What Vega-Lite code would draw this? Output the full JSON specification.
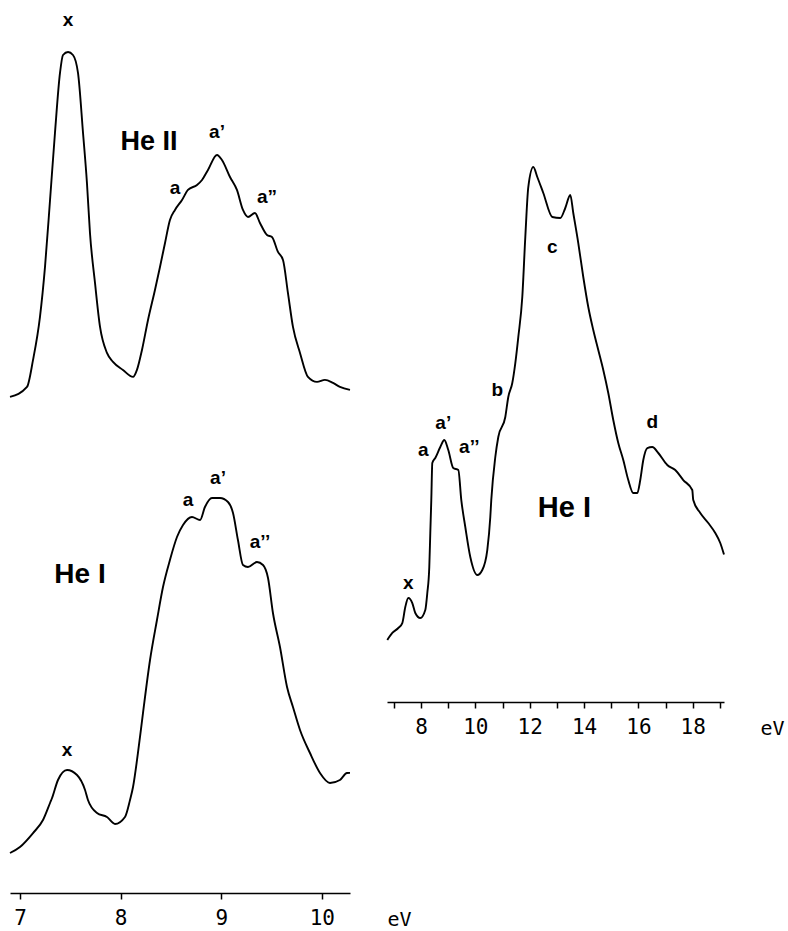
{
  "$schema": "https://vega.github.io/schema/vega-lite/v6.json",
  "padding": {"left": 6, "top": 0, "right": 0, "bottom": 0},
  "background": "white",
  "config": {"view": {"stroke": null}},
  "bounds": "flush",
  "spacing": 37,
  "datasets": {
    "heII": [
      {"eV": 6.900, "I": 0.75}, {"eV": 7.069, "I": 3.25}, {"eV": 7.129, "I": 10}, {"eV": 7.198, "I": 20.75},
      {"eV": 7.248, "I": 33.25}, {"eV": 7.298, "I": 50}, {"eV": 7.347, "I": 66.75}, {"eV": 7.397, "I": 81.75},
      {"eV": 7.427, "I": 86.25}, {"eV": 7.477, "I": 87}, {"eV": 7.526, "I": 86.25}, {"eV": 7.576, "I": 81.75},
      {"eV": 7.626, "I": 66.75}, {"eV": 7.665, "I": 54.25}, {"eV": 7.695, "I": 41.75}, {"eV": 7.745, "I": 29.25},
      {"eV": 7.795, "I": 18.25}, {"eV": 7.864, "I": 11.75}, {"eV": 7.924, "I": 9.5}, {"eV": 8.023, "I": 7.5},
      {"eV": 8.123, "I": 5.75}, {"eV": 8.162, "I": 7.5}, {"eV": 8.212, "I": 12.5}, {"eV": 8.272, "I": 20},
      {"eV": 8.341, "I": 27.5}, {"eV": 8.391, "I": 33.25}, {"eV": 8.441, "I": 39.25}, {"eV": 8.490, "I": 45},
      {"eV": 8.540, "I": 47.5}, {"eV": 8.610, "I": 50}, {"eV": 8.669, "I": 52.5}, {"eV": 8.759, "I": 53.75},
      {"eV": 8.809, "I": 55}, {"eV": 8.868, "I": 57.5}, {"eV": 8.958, "I": 61.25}, {"eV": 9.007, "I": 60},
      {"eV": 9.087, "I": 55.75}, {"eV": 9.156, "I": 52.5}, {"eV": 9.216, "I": 47.5}, {"eV": 9.266, "I": 45.75},
      {"eV": 9.335, "I": 46.75}, {"eV": 9.385, "I": 44.25}, {"eV": 9.455, "I": 41.25}, {"eV": 9.504, "I": 40.75},
      {"eV": 9.564, "I": 37}, {"eV": 9.614, "I": 35}, {"eV": 9.663, "I": 26.75}, {"eV": 9.713, "I": 18.25},
      {"eV": 9.783, "I": 11.75}, {"eV": 9.862, "I": 5.75}, {"eV": 9.952, "I": 4.5}, {"eV": 10.031, "I": 5},
      {"eV": 10.111, "I": 4.25}, {"eV": 10.180, "I": 3.25}, {"eV": 10.280, "I": 2.5}
    ],
    "heIleft": [
      {"eV": 6.900, "I": 8.46}, {"eV": 6.999, "I": 9.73}, {"eV": 7.129, "I": 12.68}, {"eV": 7.228, "I": 15.43},
      {"eV": 7.298, "I": 19.03}, {"eV": 7.318, "I": 20.08}, {"eV": 7.377, "I": 23.89}, {"eV": 7.467, "I": 26.0},
      {"eV": 7.566, "I": 24.95}, {"eV": 7.646, "I": 21.78}, {"eV": 7.675, "I": 19.66}, {"eV": 7.765, "I": 16.91},
      {"eV": 7.864, "I": 16.07}, {"eV": 7.944, "I": 14.59}, {"eV": 8.043, "I": 16.07}, {"eV": 8.093, "I": 19.66},
      {"eV": 8.123, "I": 22.41}, {"eV": 8.172, "I": 29.6}, {"eV": 8.222, "I": 38.05}, {"eV": 8.292, "I": 49.26},
      {"eV": 8.361, "I": 57.72}, {"eV": 8.421, "I": 64.69}, {"eV": 8.490, "I": 70.4}, {"eV": 8.560, "I": 75.26},
      {"eV": 8.620, "I": 77.8}, {"eV": 8.709, "I": 79.49}, {"eV": 8.789, "I": 78.86}, {"eV": 8.838, "I": 81.61},
      {"eV": 8.908, "I": 83.51}, {"eV": 8.988, "I": 83.51}, {"eV": 9.067, "I": 82.66}, {"eV": 9.117, "I": 80.34},
      {"eV": 9.166, "I": 74.63}, {"eV": 9.216, "I": 69.34}, {"eV": 9.266, "I": 68.92}, {"eV": 9.355, "I": 69.98},
      {"eV": 9.415, "I": 69.34}, {"eV": 9.465, "I": 66.6}, {"eV": 9.514, "I": 59.2}, {"eV": 9.584, "I": 52.01},
      {"eV": 9.654, "I": 43.55}, {"eV": 9.713, "I": 39.32}, {"eV": 9.783, "I": 34.46}, {"eV": 9.882, "I": 29.6},
      {"eV": 9.982, "I": 25.37}, {"eV": 10.081, "I": 23.26}, {"eV": 10.180, "I": 23.89}, {"eV": 10.250, "I": 25.37},
      {"eV": 10.280, "I": 25.4}
    ],
    "heIright": [
      {"eV": 6.761, "I": 8.83}, {"eV": 6.945, "I": 9.83}, {"eV": 7.166, "I": 10.54}, {"eV": 7.313, "I": 11.25},
      {"eV": 7.423, "I": 13.53}, {"eV": 7.534, "I": 14.81}, {"eV": 7.681, "I": 14.1}, {"eV": 7.791, "I": 12.68},
      {"eV": 7.975, "I": 11.97}, {"eV": 8.159, "I": 13.11}, {"eV": 8.233, "I": 15.53}, {"eV": 8.306, "I": 19.23},
      {"eV": 8.343, "I": 24.07}, {"eV": 8.380, "I": 28.77}, {"eV": 8.417, "I": 34.05}, {"eV": 8.527, "I": 34.76},
      {"eV": 8.711, "I": 36.32}, {"eV": 8.858, "I": 37.32}, {"eV": 9.005, "I": 35.9}, {"eV": 9.189, "I": 33.33},
      {"eV": 9.374, "I": 33.05}, {"eV": 9.484, "I": 28.77}, {"eV": 9.631, "I": 24.93}, {"eV": 9.815, "I": 20.66},
      {"eV": 10.073, "I": 18.09}, {"eV": 10.256, "I": 18.8}, {"eV": 10.440, "I": 21.65}, {"eV": 10.551, "I": 26.35},
      {"eV": 10.587, "I": 28.77}, {"eV": 10.735, "I": 34.9}, {"eV": 10.845, "I": 37.75}, {"eV": 11.103, "I": 40.6},
      {"eV": 11.213, "I": 43.45}, {"eV": 11.360, "I": 45.44}, {"eV": 11.471, "I": 48.29}, {"eV": 11.581, "I": 51.99},
      {"eV": 11.728, "I": 57.69}, {"eV": 11.839, "I": 66.24}, {"eV": 11.949, "I": 73.36}, {"eV": 12.133, "I": 76.21},
      {"eV": 12.280, "I": 74.79}, {"eV": 12.501, "I": 72.51}, {"eV": 12.832, "I": 69.09}, {"eV": 13.126, "I": 68.95},
      {"eV": 13.310, "I": 70.37}, {"eV": 13.494, "I": 72.22}, {"eV": 13.604, "I": 69.66}, {"eV": 13.788, "I": 65.38},
      {"eV": 13.972, "I": 60.54}, {"eV": 14.156, "I": 56.27}, {"eV": 14.340, "I": 52.99}, {"eV": 14.524, "I": 50.14},
      {"eV": 14.708, "I": 47.29}, {"eV": 14.892, "I": 44.02}, {"eV": 15.076, "I": 40.17}, {"eV": 15.260, "I": 36.89},
      {"eV": 15.444, "I": 34.47}, {"eV": 15.628, "I": 31.62}, {"eV": 15.812, "I": 29.77}, {"eV": 15.959, "I": 29.77},
      {"eV": 16.069, "I": 31.62}, {"eV": 16.180, "I": 34.47}, {"eV": 16.327, "I": 36.18}, {"eV": 16.511, "I": 36.32},
      {"eV": 16.732, "I": 35.47}, {"eV": 17.063, "I": 33.76}, {"eV": 17.357, "I": 33.05}, {"eV": 17.651, "I": 31.62},
      {"eV": 17.982, "I": 30.2}, {"eV": 18.019, "I": 28.77}, {"eV": 18.277, "I": 26.92}, {"eV": 18.571, "I": 25.5},
      {"eV": 18.829, "I": 24.07}, {"eV": 19.013, "I": 22.65}, {"eV": 19.150, "I": 21.0}
    ],
    "peaksHeII": [
      {"t": "x", "eV": 7.477, "I": 95}, {"t": "a", "eV": 8.54, "I": 53}, {"t": "a’", "eV": 8.958, "I": 67}, {"t": "a”", "eV": 9.455, "I": 50.75}
    ],
    "titleHeII": [{"t": "He II", "eV": 8.282, "I": 64.5}],
    "peaksHeIleft": [
      {"t": "x", "eV": 7.467, "I": 30.2}, {"t": "a", "eV": 8.669, "I": 83.1}, {"t": "a’", "eV": 8.968, "I": 87.7}, {"t": "a’’", "eV": 9.385, "I": 74.2}
    ],
    "titleHeIleft": [{"t": "He  I", "eV": 7.596, "I": 67.2}],
    "peaksHeIright": [
      {"t": "x", "eV": 7.534, "I": 16.95}, {"t": "a", "eV": 8.085, "I": 35.9}, {"t": "a’", "eV": 8.821, "I": 39.74},
      {"t": "a’’", "eV": 9.778, "I": 36.32}, {"t": "b", "eV": 10.808, "I": 44.44}, {"t": "c", "eV": 12.832, "I": 64.81},
      {"t": "d", "eV": 16.511, "I": 39.89}
    ],
    "titleHeIright": [{"t": "He I", "eV": 13.28, "I": 27.6}]
  },
  "hconcat": [
    {
      "width": 340,
      "height": 893,
      "encoding": {
        "x": {"field": "eV", "type": "quantitative", "scale": {"domain": [6.9, 10.28], "nice": false, "zero": false},
          "axis": {"values": [7, 8, 9, 10], "title": "eV", "titleX": 377, "titleY": 16, "titleAlign": "left", "titleBaseline": "top",
            "titleFont": "DejaVu Sans Mono", "titleFontSize": 20, "titleFontWeight": "normal", "titleColor": "black",
            "labelFont": "DejaVu Sans Mono", "labelFontSize": 21, "labelColor": "black", "labelPadding": 8, "labelFlush": false, "labelOverlap": false,
            "tickSize": 6, "tickColor": "black", "tickWidth": 1.5, "domainColor": "black", "domainWidth": 1.6, "grid": false}}
      },
      "resolve": {"scale": {"y": "independent"}},
      "layer": [
        {
          "encoding": {
            "y": {"field": "I", "type": "quantitative", "scale": {"domain": [-123.3, 100], "nice": false, "zero": false}, "axis": null}
          },
          "layer": [
            {"data": {"name": "heII"}, "mark": {"type": "line", "color": "black", "strokeWidth": 1.9, "interpolate": "monotone"}},
            {"data": {"name": "peaksHeII"}, "mark": {"type": "text", "font": "Liberation Sans", "fontWeight": "bold", "fontSize": 19, "color": "black"}, "encoding": {"text": {"field": "t"}}},
            {"data": {"name": "titleHeII"}, "mark": {"type": "text", "font": "Liberation Sans", "fontWeight": "bold", "fontSize": 27, "color": "black"}, "encoding": {"text": {"field": "t"}}}
          ]
        },
        {
          "encoding": {
            "y": {"field": "I", "type": "quantitative", "scale": {"domain": [0, 188.8], "nice": false, "zero": false}, "axis": null}
          },
          "layer": [
            {"data": {"name": "heIleft"}, "mark": {"type": "line", "color": "black", "strokeWidth": 1.9, "interpolate": "monotone"}},
            {"data": {"name": "peaksHeIleft"}, "mark": {"type": "text", "font": "Liberation Sans", "fontWeight": "bold", "fontSize": 19, "color": "black"}, "encoding": {"text": {"field": "t"}}},
            {"data": {"name": "titleHeIleft"}, "mark": {"type": "text", "font": "Liberation Sans", "fontWeight": "bold", "fontSize": 28, "color": "black"}, "encoding": {"text": {"field": "t"}}}
          ]
        }
      ]
    },
    {
      "width": 337,
      "height": 702,
      "encoding": {
        "x": {"field": "eV", "type": "quantitative", "scale": {"domain": [6.75, 19.15], "nice": false, "zero": false},
          "axis": {"values": [7, 8, 9, 10, 11, 12, 13, 14, 15, 16, 17, 18, 19],
            "labelExpr": "(datum.value % 2 == 0 && datum.value >= 8 && datum.value <= 18) ? datum.label : ''",
            "title": "eV", "titleX": 373, "titleY": 16, "titleAlign": "left", "titleBaseline": "top",
            "titleFont": "DejaVu Sans Mono", "titleFontSize": 20, "titleFontWeight": "normal", "titleColor": "black",
            "labelFont": "DejaVu Sans Mono", "labelFontSize": 21, "labelColor": "black", "labelPadding": 8, "labelFlush": false, "labelOverlap": false,
            "tickSize": 6, "tickColor": "black", "tickWidth": 1.5, "domainColor": "black", "domainWidth": 1.6, "grid": false}},
        "y": {"field": "I", "type": "quantitative", "scale": {"domain": [0, 100], "nice": false, "zero": false}, "axis": null}
      },
      "layer": [
        {"data": {"name": "heIright"}, "mark": {"type": "line", "color": "black", "strokeWidth": 1.9, "interpolate": "monotone"}},
        {"data": {"name": "peaksHeIright"}, "mark": {"type": "text", "font": "Liberation Sans", "fontWeight": "bold", "fontSize": 19, "color": "black"}, "encoding": {"text": {"field": "t"}}},
        {"data": {"name": "titleHeIright"}, "mark": {"type": "text", "font": "Liberation Sans", "fontWeight": "bold", "fontSize": 29, "color": "black"}, "encoding": {"text": {"field": "t"}}}
      ]
    }
  ]
}
